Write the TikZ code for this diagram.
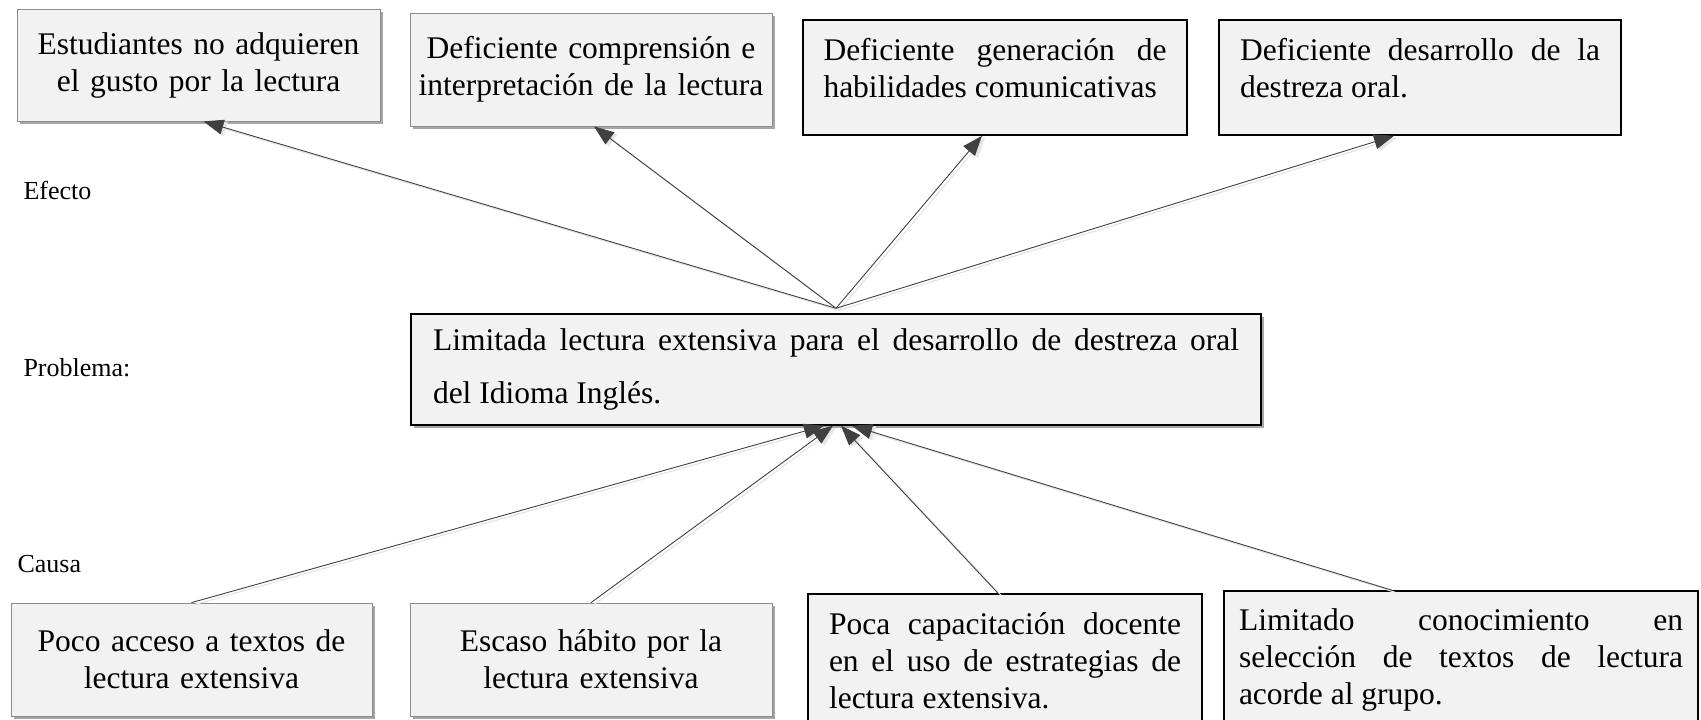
\documentclass[tikz,border=0pt]{standalone}
\usepackage{fontspec}
\setmainfont{Liberation Serif}
\usetikzlibrary{arrows.meta}
\usetikzlibrary{shadows}
\definecolor{cajagris}{HTML}{F2F2F2}
\definecolor{flechagris}{HTML}{404040}
\hbadness=10000

\begin{document}
\begin{tikzpicture}[x=1pt,y=-1pt,every node/.style={font=\fontsize{31.5}{37}\selectfont},
caja/.style={draw=black!45,line width=0.8pt,fill=cajagris,inner sep=0pt,drop shadow={shadow xshift=3pt,shadow yshift=-3pt,fill=black!35,opacity=1}},
cajanegra/.style={draw=black,line width=1.6pt,fill=cajagris,inner sep=0pt},
etiqueta/.style={anchor=west,font=\fontsize{26}{30}\selectfont},
flecha/.style={draw=flechagris,line width=0.9pt,-{Triangle[length=20pt,width=15pt]},
  preaction={draw=black!10,line width=1.2pt,transform canvas={shift={(3,2)}}}}]
\useasboundingbox (0,0) rectangle (1701,720);
\node[etiqueta] (efecto) at (20,190) {Efecto};
\node[etiqueta] (problema) at (20,368) {Problema:};
\node[etiqueta] (causa) at (14,564) {Causa};
\node[caja,minimum width=363,minimum height=112,text width=360,align=center] (e1) at (198.5,65) {Estudiantes no adquieren\\el gusto por la lectura};
\node[caja,minimum width=362,minimum height=113,text width=360,align=center] (e2) at (591,69.5) {Deficiente comprensión e\\interpretación de la lectura};
\node[cajanegra,minimum width=384,minimum height=115] (e3) at (995,77.5) {\parbox[c][79pt][t]{343pt}{Deficiente generación de\linebreak habilidades comunicativas}};
\node[cajanegra,minimum width=402,minimum height=115] (e4) at (1420,77.5) {\parbox[c][79pt][t]{360pt}{Deficiente desarrollo de la\linebreak destreza oral.}};
\node[caja,draw=black,line width=1.4pt,minimum width=850,minimum height=111,text width=806,align=justify,font=\fontsize{31.5}{53}\selectfont] (prob) at (836,369.5) {Limitada lectura extensiva para el desarrollo de destreza oral\linebreak del Idioma Inglés.};
\node[caja,minimum width=361,minimum height=113,text width=355,align=center] (c1) at (191.5,659.5) {Poco acceso a textos de\\lectura extensiva};
\node[caja,minimum width=362,minimum height=113,text width=355,align=center] (c2) at (591,659.5) {Escaso hábito por la\\lectura extensiva};
\node[cajanegra,minimum width=394,minimum height=140] (c3) at (1005,664) {\parbox[c][102pt][t]{352pt}{Poca capacitación docente\linebreak en el uso de estrategias de\linebreak lectura extensiva.}};
\node[cajanegra,minimum width=474,minimum height=140] (c4) at (1461,661) {\parbox[c][104pt][t]{444pt}{Limitado conocimiento en\linebreak selección de textos de lectura\linebreak acorde al grupo.}};
\coordinate (arriba) at ([yshift=5pt]prob.north);
% efectos
\draw (arriba) edge[flecha] ([xshift=5pt]e1.south);
\draw (arriba) edge[flecha] ([xshift=3pt]e2.south);
\draw (arriba) edge[flecha] ([xshift=-13pt]e3.south);
\draw (arriba) edge[flecha] ([xshift=-26pt]e4.south);
% causas
\draw (c1.north) edge[flecha] ([xshift=-12pt]prob.south);
\draw (c2.north) edge[flecha] ([xshift=-3pt]prob.south);
\draw ([xshift=-7pt]c3.north) edge[flecha] ([xshift=5pt]prob.south);
\draw ([xshift=-69pt]c4.north) edge[flecha] ([xshift=16pt]prob.south);
\end{tikzpicture}
\end{document}
